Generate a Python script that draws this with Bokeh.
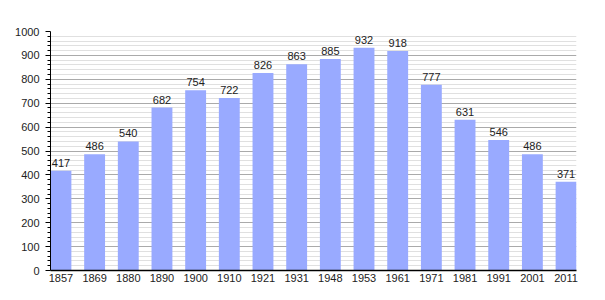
from bokeh.plotting import figure
from bokeh.models import ColumnDataSource, FixedTicker, Range1d
from bokeh.embed import file_html
from bokeh.resources import INLINE
from bokeh.core.properties import value

years = ["1857", "1869", "1880", "1890", "1900", "1910", "1921", "1931",
         "1948", "1953", "1961", "1971", "1981", "1991", "2001", "2011"]
population = [417, 486, 540, 682, 754, 722, 826, 863,
              885, 932, 918, 777, 631, 546, 486, 371]
y_ticks = [0, 100, 200, 300, 400, 500, 600, 700, 800, 900, 1000]

BAR_W = 0.62
xs = list(range(len(years)))
src = ColumnDataSource(dict(x=xs, top=population, label=[str(v) for v in population]))

p = figure(width=605, height=300, output_backend="svg", toolbar_location=None,
           x_range=Range1d(-BAR_W / 2, len(years) - 1 + BAR_W / 2),
           y_range=Range1d(0, 1000),
           min_border_left=50, min_border_right=29, min_border_top=31, min_border_bottom=30)
p.outline_line_color = None
p.background_fill_color = "white"

p.vbar(x="x", top="top", width=BAR_W, source=src, fill_color="#99AAFF", line_color=None)
p.text(x="x", y="top", text="label", source=src, text_align="center", text_baseline="bottom",
       y_offset=-4, text_font=value("Liberation Sans"), text_font_size="11px", text_color="#222222")

p.xaxis.ticker = FixedTicker(ticks=xs)
p.xaxis.major_label_overrides = {i: y for i, y in enumerate(years)}
p.xaxis.major_tick_out = 0
p.xaxis.major_tick_in = 0
p.xaxis.minor_tick_out = 0
p.xaxis.minor_tick_in = 0
p.xaxis.axis_line_color = "black"
p.xaxis.axis_line_width = 1.5
p.xaxis.major_label_standoff = 3
p.xaxis.major_label_text_font = "Liberation Sans"
p.xaxis.major_label_text_font_size = "11px"
p.xaxis.major_label_text_color = "#222222"

minor = [v for v in range(0, 1001, 20) if v % 100 != 0]
p.yaxis.ticker = FixedTicker(ticks=y_ticks, minor_ticks=minor)
p.yaxis.major_tick_out = 5
p.yaxis.major_tick_in = 0
p.yaxis.minor_tick_out = 3
p.yaxis.minor_tick_in = 0
p.yaxis.axis_line_color = "black"
p.yaxis.major_tick_line_color = "black"
p.yaxis.minor_tick_line_color = "black"
p.yaxis.major_label_standoff = 6
p.yaxis.major_label_text_font = "Liberation Sans"
p.yaxis.major_label_text_font_size = "11px"
p.yaxis.major_label_text_color = "#222222"

p.xgrid.grid_line_color = None
p.ygrid.grid_line_color = "#AAAAAA"
p.ygrid.minor_grid_line_color = "#E0E0E0"

open("out.html", "w").write(file_html(p, INLINE))
